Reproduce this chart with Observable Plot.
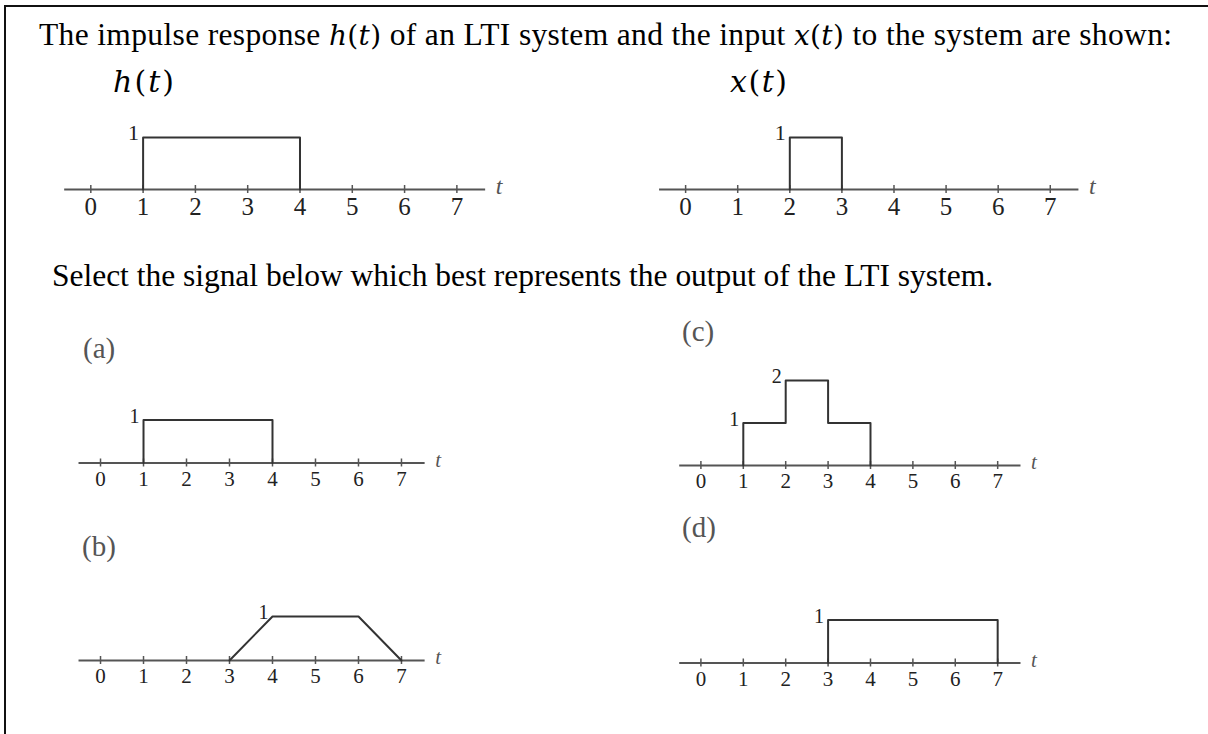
<!DOCTYPE html>
<html><head><meta charset="utf-8">
<script src="https://cdn.jsdelivr.net/npm/d3@7"></script>
<script src="https://cdn.jsdelivr.net/npm/@observablehq/plot@0.6"></script>
<style>
body{margin:0;background:#fff;}
#page{position:relative;width:1208px;height:734px;overflow:hidden;background:#fff;font-family:"Liberation Serif","Times New Roman",serif;}
#frame{position:absolute;left:4px;top:5px;width:1400px;height:900px;border-left:2px solid #111;border-top:2px solid #111;}
.layer{position:absolute;left:0;top:0;}
.panel{position:absolute;}
.panel text{font-family:"Liberation Serif","Times New Roman",serif !important;}
</style></head><body><div id="page"><div id="frame"></div></div>
<script>
// ---- data ----
const tickValues = [0, 1, 2, 3, 4, 5, 6, 7];
const tickLabels = ["0", "1", "2", "3", "4", "5", "6", "7"];

// h(t)
const hT = [1, 1, 4, 4];
const hV = [0, 1, 1, 0];
const hLevelT = [1], hLevelV = [1], hLevelText = ["1"];
// x(t)
const xT = [2, 2, 3, 3];
const xV = [0, 1, 1, 0];
const xLevelT = [2], xLevelV = [1], xLevelText = ["1"];
// (a)
const aT = [1, 1, 4, 4];
const aV = [0, 1, 1, 0];
const aLevelT = [1], aLevelV = [1], aLevelText = ["1"];
// (b)
const bT = [3, 4, 6, 7];
const bV = [0, 1, 1, 0];
const bLevelT = [4], bLevelV = [1], bLevelText = ["1"];
// (c)
const cT = [1, 1, 2, 2, 3, 3, 4, 4];
const cV = [0, 1, 1, 2, 2, 1, 1, 0];
const cLevelT = [1, 2], cLevelV = [1, 2], cLevelText = ["1", "2"];
// (d)
const dT = [3, 3, 7, 7];
const dV = [0, 1, 1, 0];
const dLevelT = [3], dLevelV = [1], dLevelText = ["1"];

const axisName = "t";

// ---- layout ----
const page = document.getElementById("page");
const SERIF = "Liberation Serif, Times New Roman, serif";

function panel(cfg) {
  const {T, V, LT, LV, LX, X0, U, Y0, Uy, yMax, tickFont, levelFont, tFont} = cfg;
  const xMin = -1, xMax = 8.7, axisStart = -0.5, axisEnd = 7.55;
  const mt = 14, mb = 48;
  const width = U * (xMax - xMin);
  const height = mt + Uy * yMax + mb;
  const data = T.map((t, i) => ({t, v: V[i]}));
  const levels = LT.map((t, i) => ({t, v: LV[i], label: LX[i]}));
  const svg = Plot.plot({
    width, height,
    marginLeft: 0, marginRight: 0, marginTop: mt, marginBottom: mb,
    x: {domain: [xMin, xMax], label: null},
    y: {domain: [0, yMax], axis: null},
    style: {background: "transparent", overflow: "visible", fontFamily: SERIF, color: "#222"},
    marks: [
      Plot.ruleY([0], {x1: axisStart, x2: axisEnd, stroke: "#555", strokeWidth: 2}),
      Plot.ruleX(tickValues, {x: d => d, y1: 0, y2: 0, insetTop: -4, insetBottom: -4, stroke: "#555", strokeWidth: 1.5}),
      Plot.axisX(tickValues, {anchor: "bottom", tickSize: 0, tickPadding: cfg.pad, fontSize: tickFont, fontFamily: SERIF, label: null, tickFormat: (d) => tickLabels[tickValues.indexOf(d)]}),
      Plot.line(data, {x: "t", y: "v", stroke: "#333", strokeWidth: 2}),
      Plot.text(levels, {x: "t", y: "v", text: "label", textAnchor: "end", lineAnchor: "bottom", dx: -4, dy: 3, fontSize: levelFont, fontFamily: SERIF, fill: "#222"}),
      Plot.text([axisName], {x: axisEnd, y: 0, text: d => d, textAnchor: "start", lineAnchor: "middle", dx: 10, dy: -3, fontSize: tFont, fontFamily: SERIF, fontStyle: "italic", fill: "#555"})
    ]
  });
  svg.classList.add("panel");
  svg.style.left = (X0 + xMin * U) + "px";
  svg.style.top = (Y0 - Uy * yMax - mt) + "px";
  svg.setAttribute("font-family", SERIF);
  page.appendChild(svg);
  return svg;
}

// ---- text layer ----
const layer = d3.select(page).append("svg").attr("class", "layer").attr("width", 1208).attr("height", 734)
  .style("font-family", SERIF);

const MATH = "DejaVu Serif, Liberation Serif, serif";
function mathLine(x, y, size, parts, len, mathSize) {
  const t = layer.append("text").attr("x", x).attr("y", y).attr("font-size", size).attr("fill", "#000");
  if (len) t.attr("textLength", len).attr("lengthAdjust", "spacing");
  parts.forEach(p => {
    const s = t.append("tspan").text(p.s);
    if (p.m) s.attr("font-family", MATH).attr("font-size", mathSize || size);
    if (p.i) s.attr("font-style", "italic");
  });
  return t;
}
const hMath = [{s: "h", i: true, m: true}, {s: "(", m: true}, {s: "t", i: true, m: true}, {s: ")", m: true}];
const xMath = [{s: "x", i: true, m: true}, {s: "(", m: true}, {s: "t", i: true, m: true}, {s: ")", m: true}];

mathLine(39, 45, 31.5, [{s: "The impulse response "}, ...hMath, {s: " of an LTI system and the input "}, ...xMath, {s: " to the system are shown:"}], 1133, 28);
mathLine(113, 92, 30, hMath, 61, 30);
mathLine(730, 92, 30, xMath, 57, 30);
mathLine(52, 286, 31.5, [{s: "Select the signal below which best represents the output of the LTI system."}], 941);

const panelLabels = [
  {s: "(a)", x: 83, y: 358},
  {s: "(c)", x: 682, y: 341},
  {s: "(b)", x: 82, y: 556},
  {s: "(d)", x: 682, y: 537}
];
panelLabels.forEach(p => layer.append("text").attr("x", p.x).attr("y", p.y).attr("font-size", 29).attr("fill", "#555").text(p.s));

// ---- panels ----
panel({T: hT, V: hV, LT: hLevelT, LV: hLevelV, LX: hLevelText, X0: 90, U: 52.3, Y0: 189, Uy: 52, yMax: 1.5, tickFont: 25, levelFont: 22, tFont: 24, pad: 8});
panel({T: xT, V: xV, LT: xLevelT, LV: xLevelV, LX: xLevelText, X0: 685, U: 52.1, Y0: 189, Uy: 52, yMax: 1.5, tickFont: 25, levelFont: 22, tFont: 24, pad: 8});
panel({T: aT, V: aV, LT: aLevelT, LV: aLevelV, LX: aLevelText, X0: 100, U: 43, Y0: 462, Uy: 43, yMax: 1.5, tickFont: 21, levelFont: 20, tFont: 21, pad: 8});
panel({T: cT, V: cV, LT: cLevelT, LV: cLevelV, LX: cLevelText, X0: 700, U: 42.4, Y0: 465, Uy: 42.5, yMax: 2.4, tickFont: 21, levelFont: 20, tFont: 21, pad: 8});
panel({T: bT, V: bV, LT: bLevelT, LV: bLevelV, LX: bLevelText, X0: 100, U: 43, Y0: 660, Uy: 44, yMax: 1.5, tickFont: 21, levelFont: 20, tFont: 21, pad: 8});
panel({T: dT, V: dV, LT: dLevelT, LV: dLevelV, LX: dLevelText, X0: 700, U: 42.4, Y0: 662, Uy: 43, yMax: 1.5, tickFont: 21, levelFont: 20, tFont: 21, pad: 8});
</script>
</body></html>
